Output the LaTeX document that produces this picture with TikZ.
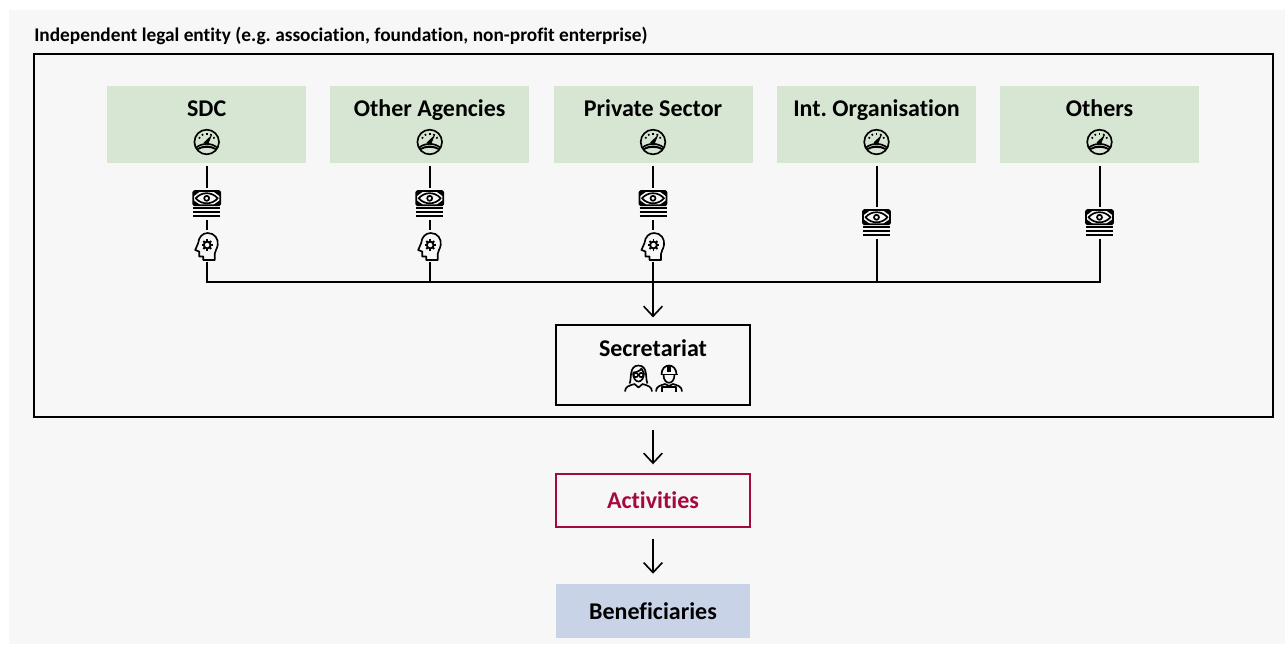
\documentclass[tikz,border=0pt]{standalone}
\usepackage{fontspec}
\setmainfont[Ligatures=NoCommon]{Carlito}
\usetikzlibrary{arrows.meta}
\definecolor{pagegray}{HTML}{F7F7F7}
\definecolor{donorgreen}{HTML}{D7E6D3}
\definecolor{activityred}{HTML}{A6093D}
\definecolor{benefitblue}{HTML}{C9D3E8}
\tikzset{
  donor/.style={fill=donorgreen,minimum width=149.25pt,minimum height=57.75pt,outer ysep=2pt},
  heading/.style={anchor=base,inner sep=0pt,font=\bfseries\fontsize{18}{20}\selectfont},
  iconspot/.style={minimum width=21pt,minimum height=24pt,inner sep=0pt,outer sep=0pt},
  stage/.style={minimum width=145.5pt,inner sep=0pt,font=\bfseries\fontsize{18}{20}\selectfont},
  link/.style={line width=1.5pt},
  flow/.style={line width=1.4pt,-{Straight Barb[length=7.5pt,width=14pt,line width=1.2pt]}},
  icon/.style={line width=1.25pt,line join=round}
}
% icons, all drawn around the centre of their spot
\newcommand{\drawgauge}[2]{%
\begin{scope}[shift={(#1,#2)},icon]
\draw (0,0) circle (12.3);
\draw (-11,6) .. controls (-5,0.5) and (5,0.5) .. (11,6);
\fill (-10,7) .. controls (-5,2.5) and (5,2.5) .. (10,7) -- (9,8) .. controls (4,5) and (-4,5) .. (-9,8) -- cycle;
\fill (-3,0.5) -- (5.5,-7.5) -- (1.5,2) -- cycle;
\foreach \a in {-150,-120,-90,-60,-30}
{ \draw (\a:9.2) -- (\a:7.5); }
\end{scope}
}
\newcommand{\drawmoney}[3]{%
\node[iconspot] (#3) at (#1,#2) {};
\begin{scope}[shift={(#1,#2)},icon]
\draw[rounded corners=1pt] (-13.5,-13) rectangle (13.5,1.3);
\fill (-13.5,-13) -- (-6,-13) -- (-13.5,-7.5) -- cycle;
\fill (13.5,-13) -- (6,-13) -- (13.5,-7.5) -- cycle;
\fill (-13.5,1.3) -- (-6,1.3) -- (-13.5,-4) -- cycle;
\fill (13.5,1.3) -- (6,1.3) -- (13.5,-4) -- cycle;
\draw (-11,-5.7) .. controls (-5,-12.5) and (5,-12.5) .. (11,-5.7) .. controls (5,1) and (-5,1) .. cycle;
\draw (0,-5.7) circle (2.5);
\draw[line width=1.4pt] (-13.5,4) -- (13.5,4);
\draw[line width=1.4pt] (-13.5,8) -- (13.5,8);
\draw[line width=1.4pt] (-13.5,12) -- (13.5,12);
\end{scope}
}
\newcommand{\drawhead}[3]{%
\node[iconspot] (#3) at (#1,#2) {};
\begin{scope}[shift={(#1,#2)},icon]
\draw (-3.5,14) -- (-3.5,10.5) -- (-7.5,10.5) -- (-7.5,5.5) -- (-11.5,4)
  -- (-8.5,-3) .. controls (-8,-9) and (-4,-13) .. (1,-13)
  .. controls (8,-13) and (12,-7) .. (11,-1) .. controls (10.5,3) and (8,5) .. (8,8)
  -- (8,14) -- cycle;
\draw[line width=1.4pt] (0.5,-1) circle (3.4);
\fill[pagegray] (0.5,-1) circle (1.1);
\foreach \a in {0,45,...,315}
{ \draw[line width=1.4pt,shift={(0.5,-1)}] (\a:3.5) -- (\a:5.6); }
\end{scope}
}
\newcommand{\drawwoman}[2]{%
\begin{scope}[shift={(#1,#2)},icon]
\draw (-13.5,13) .. controls (-13.5,8) and (-9,7) .. (-4,5.5) -- (0,9) -- (4,5.5) .. controls (9,7) and (13.5,8) .. (13.5,13);
\draw (-9,5) .. controls (-6.5,1) and (-10,-13) .. (0,-13) .. controls (10,-13) and (6.5,1) .. (9,5);
\draw (-5.5,-6) .. controls (-5.5,6) and (5.5,6) .. (5.5,-6);
\draw (-5.5,-6) .. controls (-2,-6) and (2,-8) .. (3,-10) .. controls (3.5,-8) and (4.5,-7) .. (5.5,-6);
\draw (-2.7,-3.5) circle (2.2);
\draw (2.7,-3.5) circle (2.2);
\end{scope}
}
\newcommand{\drawworker}[2]{%
\begin{scope}[shift={(#1,#2)},icon]
\draw (-13,13) .. controls (-13,8) and (-9,7) .. (-4,5.5) -- (0,7.5) -- (4,5.5) .. controls (9,7) and (13,8) .. (13,13);
\draw (-7,13) -- (-7,8.5) -- (7,8.5) -- (7,13);
\draw (-8.5,-4) -- (8.5,-4);
\draw (-7.5,-4) .. controls (-7.5,-16) and (7.5,-16) .. (7.5,-4);
\fill (-2,-13) rectangle (2,-7);
\draw (-5.5,-4) .. controls (-5.5,7) and (5.5,7) .. (5.5,-4);
\end{scope}
}
\begin{document}
\frenchspacing
\begin{tikzpicture}[x=0.75pt,y=-0.75pt]

\fill[white] (0,0) rectangle (1285,644);
\fill[pagegray] (9,10) rectangle (1285,644);

\node[anchor=base west,inner sep=0pt,font=\bfseries\fontsize{14.5}{16}\selectfont] (title) at (34,41.5) {Independent legal entity (e.g. association, foundation, non-profit enterprise)};
\draw[line width=1.4pt] (34,54) rectangle (1273,417);

% donors
\node[donor] (sdc) at (206.7,124.5) {};
\node[donor] (agencies) at (429.7,124.5) {};
\node[donor] (private) at (653,124.5) {};
\node[donor] (intorg) at (876.5,124.5) {};
\node[donor] (others) at (1099.5,124.5) {};

\node[heading] (sdctext) at (206.7,116.5) {SDC};
\node[heading] (agenciestext) at (429.7,116.5) {Other Agencies};
\node[heading] (privatetext) at (653,116.5) {Private Sector};
\node[heading] (intorgtext) at (876.5,116.5) {Int. Organisation};
\node[heading] (otherstext) at (1099.5,116.5) {Others};

\drawgauge{206.7}{142}
\drawgauge{429.7}{142}
\drawgauge{653}{142}
\drawgauge{876.5}{142}
\drawgauge{1099.5}{142}

\drawmoney{206.7}{204}{money1}
\drawmoney{429.7}{204}{money2}
\drawmoney{653}{204}{money3}
\drawmoney{876.5}{223}{money4}
\drawmoney{1099.5}{223}{money5}

\drawhead{206.7}{246}{head1}
\drawhead{429.7}{246}{head2}
\drawhead{653}{246}{head3}

% bus
\coordinate (bus1) at (206.7,282);
\coordinate (bus2) at (429.7,282);
\coordinate (bus4) at (876.5,282);
\coordinate (bus5) at (1099.5,282);

\draw[link] (sdc) -- (money1);
\draw[link] (agencies) -- (money2);
\draw[link] (private) -- (money3);
\draw[link] (intorg) -- (money4);
\draw[link] (others) -- (money5);
\draw[link] (money1) -- (head1);
\draw[link] (money2) -- (head2);
\draw[link] (money3) -- (head3);
\draw[link] (head1) -- (bus1) -- (bus5) -- (money5);
\draw[link] (head2) -- (bus2);
\draw[link] (money4) -- (bus4);

% stages
\node[stage,draw,line width=1.4pt,minimum height=60pt] (secretariat) at (653,365) {};
\node[heading] (secretariattext) at (653,356) {Secretariat};
\drawwoman{638.5}{378.5}
\drawworker{669}{378.5}
\node[stage,draw=activityred,line width=1.1pt,minimum height=39.75pt,text=activityred] (activities) at (653,500.5) {Activities};
\node[stage,fill=benefitblue,minimum height=40.5pt] (beneficiaries) at (653,611) {Beneficiaries};

\draw[flow,shorten >=5pt] (head3) -- (secretariat);
\draw[flow,shorten <=18pt,shorten >=6.75pt] (secretariat) -- (activities);
\draw[flow,shorten <=8.25pt,shorten >=7.5pt] (activities) -- (beneficiaries);

\end{tikzpicture}
\end{document}
